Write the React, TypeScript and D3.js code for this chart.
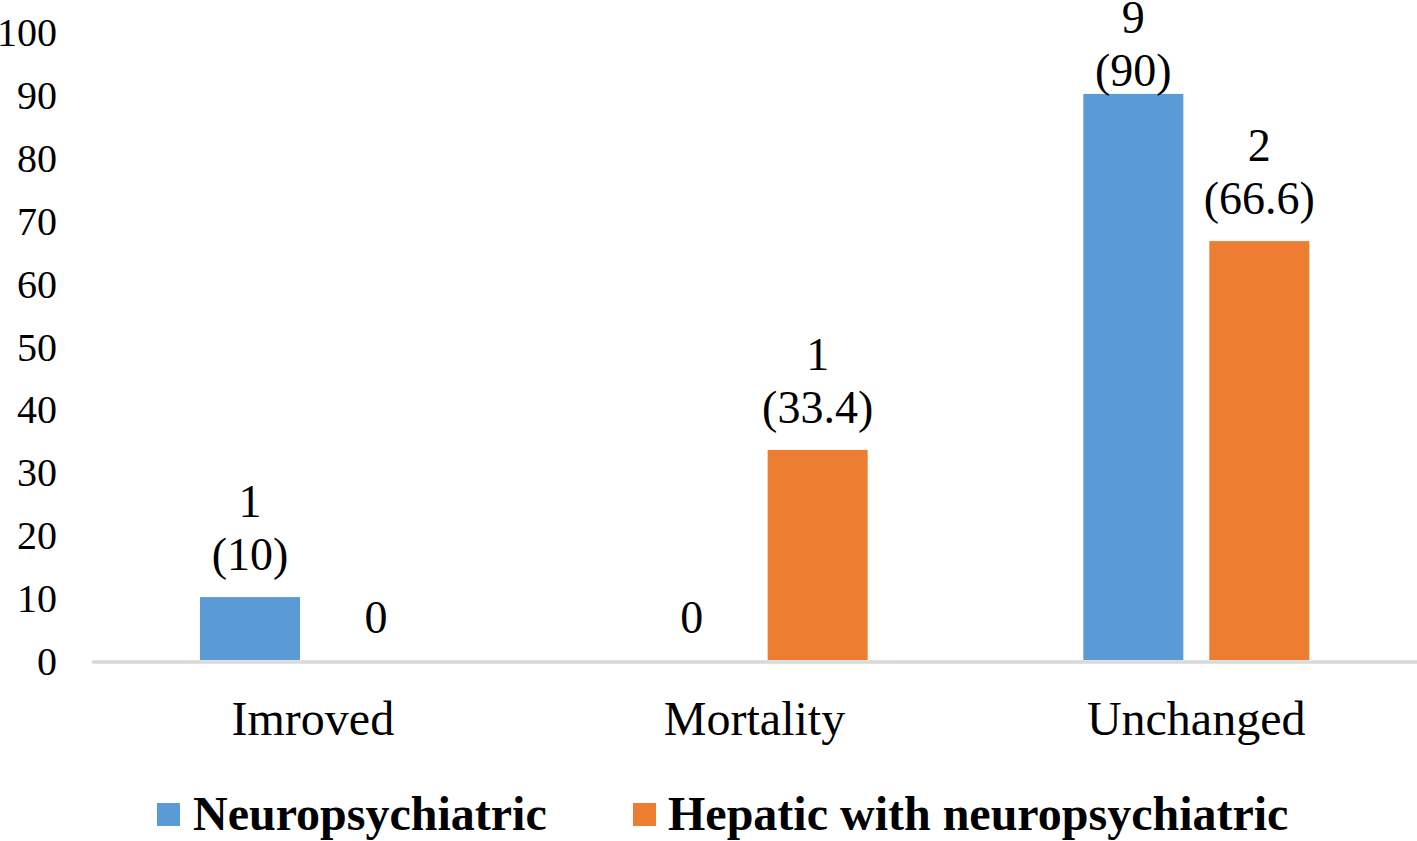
import React from "react";
import * as d3 from "d3";

const categories = ["Imroved", "Mortality", "Unchanged"];
const seriesNames = ["Neuropsychiatric", "Hepatic with neuropsychiatric"];
const neuroCounts = [1, 0, 9];
const neuroPercents = [10, 0, 90];
const hepaticCounts = [0, 1, 2];
const hepaticPercents = [0, 33.4, 66.6];
const yTicks = [0, 10, 20, 30, 40, 50, 60, 70, 80, 90, 100];
const colors = ["#5B9BD5", "#ED7D31"];

const W = 1417;
const H = 841;
const FONT = "'Liberation Serif', 'Times New Roman', serif";

export default function App() {
  const y = d3.scaleLinear().domain([0, 100]).range([660, 31]);
  const x0 = d3.scaleBand<string>().domain(categories).range([92, 1417]).padding(0);
  const bw = x0.bandwidth();
  const x1 = d3
    .scaleBand<string>()
    .domain(seriesNames)
    .range([bw * 0.2445, bw * 0.7562])
    .paddingInner(0.2063)
    .paddingOuter(0);

  const series = [
    { name: seriesNames[0], counts: neuroCounts, pcts: neuroPercents, color: colors[0] },
    { name: seriesNames[1], counts: hepaticCounts, pcts: hepaticPercents, color: colors[1] },
  ];

  const lineH = 53;
  const gap = 27;

  return (
    <svg
      width={W}
      height={H}
      style={{ position: "absolute", left: 0, top: 0, background: "#fff" }}
      fontFamily={FONT}
    >
      {/* y tick labels */}
      {yTicks.map((t) => (
        <text key={t} x={57} y={y(t) + 15} fontSize={40} textAnchor="end" fill="#000">
          {t}
        </text>
      ))}
      {/* bars */}
      {series.map((s) =>
        categories.map((c, i) => {
          const v = s.pcts[i];
          const bx = (x0(c) as number) + (x1(s.name) as number);
          return (
            <rect
              key={s.name + c}
              x={bx}
              y={y(v)}
              width={x1.bandwidth()}
              height={y(0) - y(v)}
              fill={s.color}
            />
          );
        })
      )}
      {/* axis line */}
      <line x1={92} x2={1417} y1={662} y2={662} stroke="#D9D9D9" strokeWidth={3.5} />
      {/* data labels */}
      {series.map((s) =>
        categories.map((c, i) => {
          const v = s.pcts[i];
          const cx = (x0(c) as number) + (x1(s.name) as number) + x1.bandwidth() / 2;
          const lines = s.counts[i] === 0 ? ["0"] : [String(s.counts[i]), `(${v})`];
          let last = y(v) - gap;
          let first = last - lineH * (lines.length - 1);
          if (first < 33) {
            const shift = 33 - first;
            first += shift;
            last += shift;
          }
          return (
            <text key={"l" + s.name + c} fontSize={46} textAnchor="middle" fill="#000">
              {lines.map((ln, k) => (
                <tspan key={k} x={cx} y={first + k * lineH}>
                  {ln}
                </tspan>
              ))}
            </text>
          );
        })
      )}
      {/* category labels */}
      {categories.map((c) => (
        <text
          key={c}
          x={(x0(c) as number) + bw / 2}
          y={735}
          fontSize={48}
          textAnchor="middle"
          fill="#000"
        >
          {c}
        </text>
      ))}
      {/* legend */}
      {[
        { sx: 157, tx: 193 },
        { sx: 633, tx: 668 },
      ].map((p, k) => (
        <g key={k}>
          <rect x={p.sx} y={803} width={23} height={23} fill={colors[k]} />
          <text x={p.tx} y={830} fontSize={48} fontWeight="bold" fill="#000">
            {seriesNames[k]}
          </text>
        </g>
      ))}
    </svg>
  );
}
